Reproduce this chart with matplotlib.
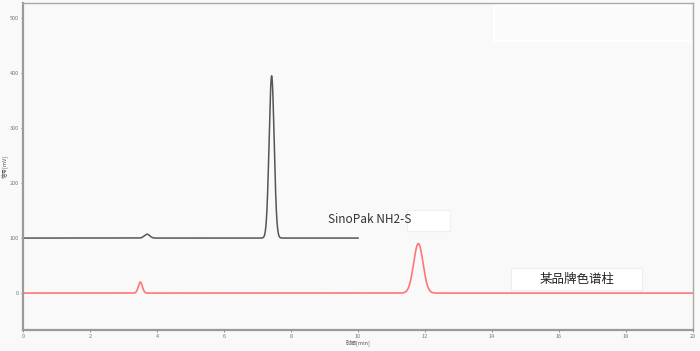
import numpy as np
import matplotlib.pyplot as plt

plt.rcParams['font.family'] = ['Noto Sans CJK SC', 'DejaVu Sans']

# peak tables: retention time [min], height [mV], width (sigma) [min]
sinopak_rt = [3.70, 7.42]
sinopak_height = [7, 295]
sinopak_sigma = [0.08, 0.075]
sinopak_baseline = 100
sinopak_end = 10.0

brand_rt = [3.50, 11.80]
brand_height = [20, 90]
brand_sigma = [0.06, 0.14]
brand_baseline = 0
brand_end = 20.0

x_ticks = [0, 2, 4, 6, 8, 10, 12, 14, 16, 18, 20]
y_ticks = [0, 100, 200, 300, 400, 500]


def trace(rts, heights, sigmas, base, t_end):
    t = np.linspace(0, t_end, 4000)
    y = np.full_like(t, float(base))
    for rt, h, s in zip(rts, heights, sigmas):
        y += h * np.exp(-0.5 * ((t - rt) / s) ** 2)
    return t, y


bg = '#f9f9f9'
fig = plt.figure(figsize=(7, 3.51), dpi=100, facecolor=bg)
ax = fig.add_axes([0.033, 0.06, 0.957, 0.931], facecolor=bg)

t1, y1 = trace(sinopak_rt, sinopak_height, sinopak_sigma, sinopak_baseline, sinopak_end)
t2, y2 = trace(brand_rt, brand_height, brand_sigma, brand_baseline, brand_end)
ax.plot(t1, y1, color='#555555', lw=1.1)
ax.plot(t2, y2, color='#ff7676', lw=1.2)

ax.set_xlim(0, 20)
ax.set_ylim(-67, 527)
ax.set_xticks(x_ticks)
ax.set_yticks(y_ticks)
ax.tick_params(labelsize=4, colors='#777777', length=1.5, width=0.6, pad=1.5)
ax.set_xlabel('时间[min]', fontsize=4, color='#555555', labelpad=0.5)
ax.set_ylabel('信号[mV]', fontsize=4, color='#555555', labelpad=0.5)
for side in ['left', 'bottom']:
    ax.spines[side].set_color('#9a9a9a')
    ax.spines[side].set_linewidth(1.6)
for side in ['top', 'right']:
    ax.spines[side].set_color('#aaaaaa')
    ax.spines[side].set_linewidth(1.0)

# annotations
ax.text(9.1, 133, 'SinoPak NH2-S', fontsize=8.5, color='#333333', va='center')
ax.add_patch(plt.Rectangle((11.45, 113), 1.3, 38, facecolor='white', edgecolor='#f0f0f0', lw=0.8))
ax.add_patch(plt.Rectangle((14.58, 5.5), 3.9, 40, facecolor='white', edgecolor='#eeeeee', lw=0.8))
ax.text(16.53, 25, '某品牌色谱柱', fontsize=9, color='#222222', va='center', ha='center')
ax.add_patch(plt.Rectangle((14.05, 458), 5.85, 65, facecolor='#fbfbfb', edgecolor='white', lw=1.2))

fig.savefig('out.png', dpi=100, facecolor=bg)
